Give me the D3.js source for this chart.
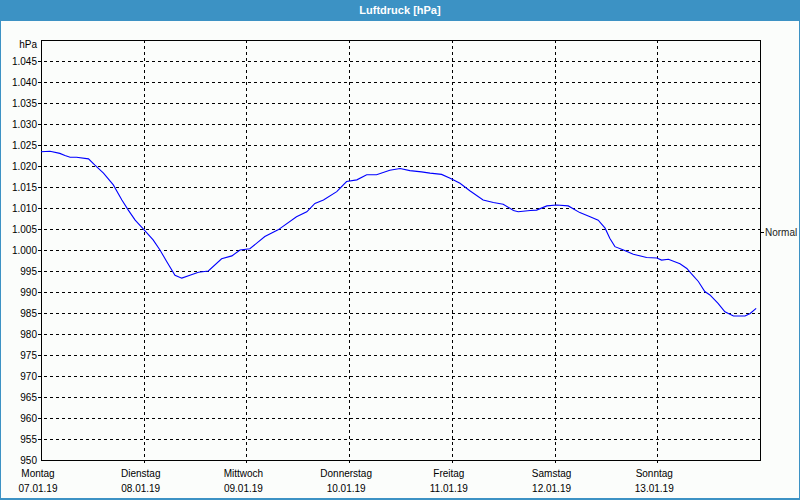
<!DOCTYPE html>
<html><head><meta charset="utf-8">
<script src="https://cdn.jsdelivr.net/npm/d3@7"></script>
<style>
html,body{margin:0;padding:0;background:#fff;}
svg{display:block;font-family:Tahoma,"Liberation Sans",sans-serif;}
</style></head>
<body>
<svg id="c" width="800" height="500"></svg>
<script>
const title = "Luftdruck [hPa]";
const unitLabel = "hPa";
const dayNames = ["Montag","Dienstag","Mittwoch","Donnerstag","Freitag","Samstag","Sonntag"];
const dayDates = ["07.01.19","08.01.19","09.01.19","10.01.19","11.01.19","12.01.19","13.01.19"];
const yTicks = [950,955,960,965,970,975,980,985,990,995,1000,1005,1010,1015,1020,1025,1030,1035,1040,1045,1050];
const normalLabel = "Normal";
const normalValue = 1004.4;
// hours since Mon 07.01.19 00:00
const hours = [0,2.1,4.4,5.6,6.8,8.3,11.1,12.6,14.6,16.9,18.9,20.4,22.0,24.1,26.2,27.8,29.4,31.3,32.9,34.8,36.8,39.1,42.2,44.6,46.5,48.8,52.3,55.4,59.7,62.1,64.0,66.0,69.1,71.4,73.8,76.1,78.4,81.5,83.9,86.2,88.9,90.9,93.6,95.6,97.9,100.2,103.3,105.7,108.0,110.4,111.5,114.3,115.8,118.2,120.5,123.2,125.9,128.3,130.2,131.8,132.9,134.1,136.1,138.4,141.5,143.9,145.0,146.6,149.3,150.9,152.0,153.6,155.1,156.3,158.2,159.8,161.8,164.5,165.7,167.1];
const pressure = [1023.4,1023.5,1023.0,1022.5,1022.1,1022.1,1021.7,1020.2,1018.3,1015.5,1011.9,1009.5,1007.1,1004.8,1002.4,1000.0,997.2,994.0,993.3,994.0,994.7,995.0,997.9,998.6,1000.0,1000.3,1003.2,1004.8,1007.9,1009.1,1011.1,1011.9,1013.9,1016.3,1016.7,1017.9,1017.9,1019.0,1019.4,1018.9,1018.6,1018.3,1018.0,1017.1,1015.9,1014.1,1011.9,1011.3,1010.9,1009.4,1009.1,1009.4,1009.5,1010.5,1010.7,1010.5,1008.9,1007.9,1007.1,1005.2,1002.8,1000.8,1000.0,999.0,998.2,998.1,997.6,997.8,996.7,995.6,994.3,992.5,990.1,989.3,987.3,985.3,984.3,984.3,984.9,986.1];

const svg = d3.select("#c");
const W = 800, H = 500;
const L = 41, R = 760, T = 40, B = 460;

// frame
svg.append("rect").attr("x",0).attr("y",0).attr("width",W).attr("height",H).attr("fill","#3c92c4");
svg.append("rect").attr("x",1).attr("y",21).attr("width",W-2).attr("height",H-23).attr("fill","#fbfdfb");
svg.append("text").attr("x",W/2).attr("y",14).attr("text-anchor","middle")
  .attr("fill","#fff").attr("font-weight","bold").attr("font-size","11px").text(title);

const x = d3.scaleLinear().domain([0,168]).range([L,R]);
const y = d3.scaleLinear().domain([950,1050]).range([B,T]);

const fmt = v => { const s = String(v); return v >= 1000 ? s[0] + "." + s.slice(1) : s; };

// horizontal grid
const g = svg.append("g").attr("shape-rendering","crispEdges");
g.selectAll("line.h").data(yTicks.filter(v => v > 950 && v < 1050)).join("line")
  .attr("x1",L-3).attr("x2",R).attr("y1",d=>Math.round(y(d))+0.5).attr("y2",d=>Math.round(y(d))+0.5)
  .attr("stroke","#000").attr("stroke-dasharray","3,3");
// vertical grid
const dayHours = dayNames.map((d,i)=>i*24);
g.selectAll("line.v").data(dayHours.slice(1)).join("line")
  .attr("x1",d=>Math.round(x(d))+0.5).attr("x2",d=>Math.round(x(d))+0.5).attr("y1",T).attr("y2",B+4)
  .attr("stroke","#000").attr("stroke-dasharray","3,3");

// y labels
const yAxis = d3.axisLeft(y).tickValues(yTicks.filter(v=>v<1050)).tickSize(0).tickPadding(4).tickFormat(fmt);
const ya = svg.append("g").attr("transform",`translate(${L},0)`).call(yAxis);
ya.select(".domain").remove();
ya.selectAll("text").attr("font-size","10px").attr("fill","#000").attr("font-family","Tahoma,'Liberation Sans',sans-serif");
svg.append("text").attr("x",L-4).attr("y",T+8).attr("text-anchor","end").attr("font-size","10px").attr("fill","#000").text(unitLabel);

// x labels
const xa = svg.append("g");
xa.selectAll("text.n").data(dayHours).join("text")
  .attr("x",d=>x(d)-3).attr("y",477).attr("text-anchor","middle").attr("font-size","10px").attr("fill","#000")
  .text((d,i)=>dayNames[i]);
xa.selectAll("text.d").data(dayHours).join("text")
  .attr("x",d=>x(d)-3).attr("y",492).attr("text-anchor","middle").attr("font-size","10px").attr("fill","#000")
  .text((d,i)=>dayDates[i]);

// box
svg.append("rect").attr("x",L+0.5).attr("y",T+0.5).attr("width",R-L).attr("height",B-T)
  .attr("fill","none").attr("stroke","#000").attr("shape-rendering","crispEdges");

// normal marker
const ny = Math.round(y(normalValue))+0.5;
svg.append("line").attr("x1",R).attr("x2",R+4).attr("y1",ny).attr("y2",ny).attr("stroke","#000").attr("shape-rendering","crispEdges");
svg.append("text").attr("x",R+5).attr("y",ny+3.5).attr("font-size","10px").attr("fill","#222").text(normalLabel);

// line
const data = hours.map((h,i)=>({h, p: pressure[i]}));
svg.append("path").datum(data)
  .attr("d", d3.line().x(d=>x(d.h)).y(d=>y(d.p)))
  .attr("fill","none").attr("stroke","#0000ff").attr("stroke-width",1.1);
</script>
</body></html>
